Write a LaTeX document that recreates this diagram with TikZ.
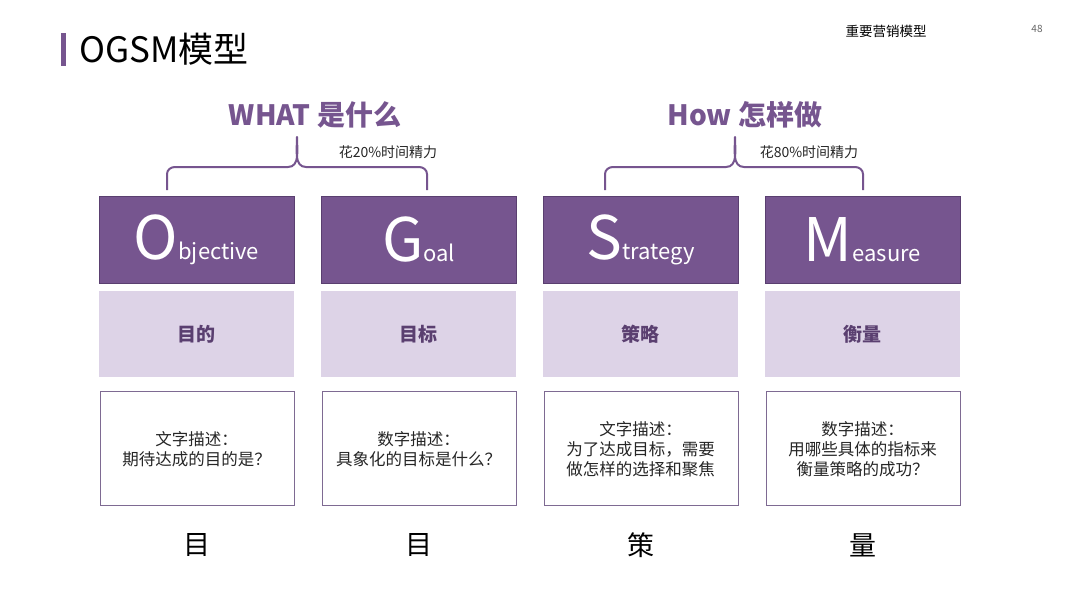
\documentclass[tikz,border=0pt]{standalone}
\usepackage{fontspec}
\setmainfont{Noto Sans CJK SC}
\definecolor{pur}{HTML}{76558F}
\definecolor{purd}{HTML}{5A3F70}
\definecolor{lpur}{HTML}{DDD3E7}
\definecolor{bor}{HTML}{7E6A92}
\begin{document}
\begin{tikzpicture}[x=1pt,y=-1pt,
 dark/.style={fill=pur,draw=purd,line width=1pt},
 light/.style={fill=lpur,draw=none},
 outl/.style={draw=bor,line width=0.8pt,fill=white},
 brace/.style={draw=pur,line width=2pt,line join=round},
 lbl/.style={font=\fontsize{19}{22}\selectfont\bfseries,text=purd},
 desc/.style={font=\fontsize{16.5}{20}\selectfont,text=black!85,align=center},
 big/.style={font=\fontsize{28}{30}\selectfont\bfseries,text=pur},
 note/.style={font=\fontsize{14}{16}\selectfont,text=black!85}]
\useasboundingbox (0,0) rectangle (1080,608);
\fill[white] (0,0) rectangle (1080,608);
\fill[pur] (61,33) rectangle (66,66);
\node[anchor=west,font=\fontsize{35}{38}\selectfont] (title) at (76,49) {OGSM模型};
\node[font=\fontsize{13.5}{15}\selectfont] (sub) at (886,31) {重要营销模型};
\node[font=\fontsize{10}{11}\selectfont,text=black!60] (pg) at (1037,29) {48};
\node[big] (what) at (315,115) {WHAT 是什么};
\node[big] (how) at (745,115) {How 怎样做};
\node[note] (n1) at (388,152) {花20\%时间精力};
\node[note] (n2) at (809,152) {花80\%时间精力};
\draw[brace] (167,190) -- (167,174) to[out=90,in=180] (175,167) -- (288,167) to[out=0,in=-90] (297,137) to[out=-90,in=180] (306,167) -- (419,167) to[out=0,in=90] (427,174) -- (427,190);
\draw[brace] (605,190) -- (605,174) to[out=90,in=180] (613,167) -- (726,167) to[out=0,in=-90] (735,137) to[out=-90,in=180] (744,167) -- (855,167) to[out=0,in=90] (863,174) -- (863,190);
\foreach \x/\L/\r/\h/\d/\c [count=\i] in {99/O/bjective/目的/{文字描述：\\期待达成的目的是？}/目,
 321/G/oal/目标/{数字描述：\\具象化的目标是什么？}/目,
 543/S/trategy/策略/{文字描述：\\为了达成目标，需要\\做怎样的选择和聚焦}/策,
 765/M/easure/衡量/{数字描述：\\用哪些具体的指标来\\衡量策略的成功？}/量}{
 \draw[dark] (\x,196) rectangle ++(195,87);
 \node[light,minimum width=195pt,minimum height=86pt,anchor=north west] (l\i) at (\x,291) {};
 \node[lbl] at (l\i) {\h};
 \draw[outl] (\x+1,391) rectangle ++(194,114);
 \node[desc] (d\i) at (\x+97.5,449) {\d};
 \node[font=\fontsize{27}{30}\selectfont] (c\i) at (\x+97.5,545) {\c};
 \node[font=\fontsize{60}{62}\selectfont,text=white,inner sep=0pt] (L\i) at (\x+97.5,240) {\L\fontsize{22}{24}\selectfont\r};
}
\end{tikzpicture}
\end{document}
